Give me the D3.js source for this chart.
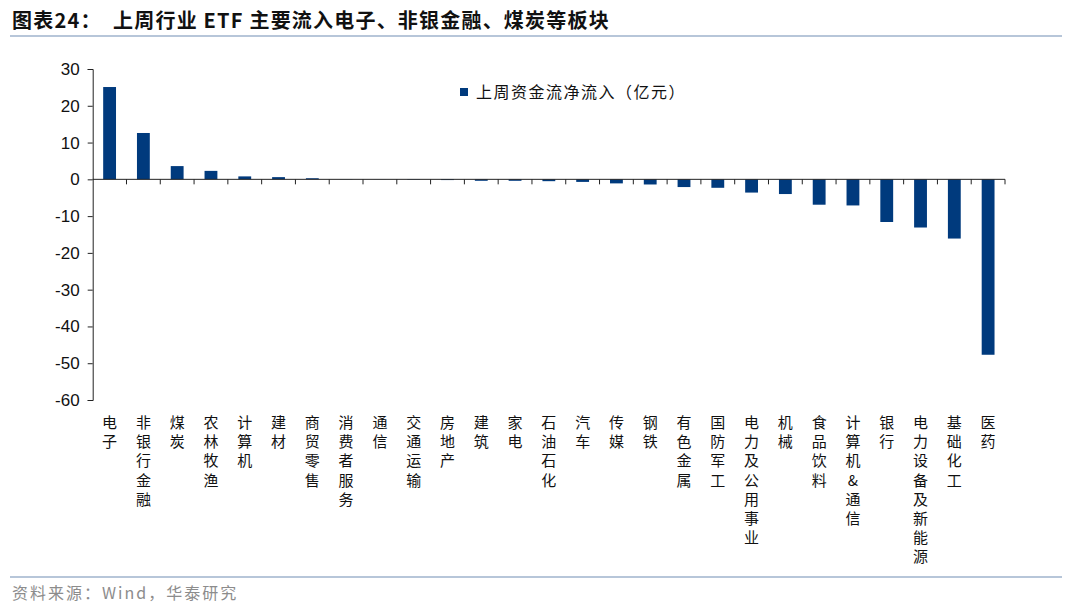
<!DOCTYPE html>
<html>
<head>
<meta charset="utf-8">
<script src="https://cdn.jsdelivr.net/npm/d3@7"></script>
<style>
  body { margin: 0; background: #fff; }
  svg { display: block; }
</style>
</head>
<body>
<div id="chart"></div>
<script>
// Sector names (x axis) and last week's net ETF inflow, in 100m yuan
const categories = ["电子", "非银行金融", "煤炭", "农林牧渔", "计算机", "建材", "商贸零售", "消费者服务",
    "通信", "交通运输", "房地产", "建筑", "家电", "石油石化", "汽车", "传媒", "钢铁", "有色金属",
    "国防军工", "电力及公用事业", "机械", "食品饮料", "计算机&通信", "银行", "电力设备及新能源", "基础化工", "医药"];
const inflows = [25.1, 12.6, 3.6, 2.3, 0.8, 0.6, 0.3, 0.05, 0.02, -0.1, -0.2, -0.4, -0.4, -0.5, -0.7,
    -1.1, -1.4, -2.1, -2.3, -3.6, -4.0, -6.9, -7.1, -11.6, -13.1, -16.1, -47.7];
const yTicks = [30, 20, 10, 0, -10, -20, -30, -40, -50, -60];
const seriesName = "上周资金流净流入（亿元）";

const width = 1080, height = 608;
const cjk = "'Noto Sans CJK SC', 'Noto Sans', sans-serif";
const barColor = "#003a7d";

const svg = d3.select("#chart").append("svg")
    .attr("width", width)
    .attr("height", height);

// Title + rule
svg.append("text")
    .attr("x", 12).attr("y", 28)
    .attr("font-family", cjk)
    .attr("font-size", 20)
    .attr("font-weight", "bold")
    .attr("letter-spacing", 1.2)
    .attr("fill", "#111")
    .attr("xml:space", "preserve")
    .text("图表24：  上周行业 ETF 主要流入电子、非银金融、煤炭等板块");
svg.append("line")
    .attr("x1", 10).attr("x2", 1062).attr("y1", 36).attr("y2", 36)
    .attr("stroke", "#9fb3cc").attr("stroke-width", 1.5);

// Footer
svg.append("line")
    .attr("x1", 10).attr("x2", 1062).attr("y1", 577).attr("y2", 577)
    .attr("stroke", "#9fb3cc").attr("stroke-width", 1.5);
svg.append("text")
    .attr("x", 12).attr("y", 599)
    .attr("font-family", cjk)
    .attr("font-size", 16)
    .attr("letter-spacing", 2)
    .attr("fill", "#8c8c8c")
    .text("资料来源：Wind，华泰研究");

// Scales
const x = d3.scaleBand()
    .domain(categories)
    .range([92.7, 1005])
    .paddingInner(0.62)
    .paddingOuter(0.31);
const y = d3.scaleLinear()
    .domain([-60, 30])
    .range([400, 69]);

// Bars
svg.append("g").selectAll("rect")
    .data(categories)
    .join("rect")
    .attr("x", d => x(d))
    .attr("width", x.bandwidth())
    .attr("y", (d, i) => y(Math.max(0, inflows[i])))
    .attr("height", (d, i) => Math.abs(y(inflows[i]) - y(0)))
    .attr("fill", barColor);

// Y axis
const yAxis = svg.append("g")
    .attr("transform", "translate(92.7,0)")
    .call(d3.axisLeft(y).tickValues(yTicks).tickSize(5).tickPadding(8).tickFormat(d => String(d)));
yAxis.select(".domain").attr("stroke", "#222");
yAxis.selectAll(".tick line").attr("stroke", "#222");
yAxis.selectAll("text")
    .attr("font-family", "Arial, 'Liberation Sans', sans-serif")
    .attr("font-size", 17)
    .attr("fill", "#111");

// X axis at zero: line with ticks between categories
const step = x.step();
const boundaries = d3.range(categories.length + 1).map(i => 92.7 + i * step);
const xAxis = svg.append("g");
xAxis.append("line")
    .attr("x1", 92.7).attr("x2", 1005)
    .attr("y1", y(0)).attr("y2", y(0))
    .attr("stroke", "#222");
xAxis.selectAll("line.tick")
    .data(boundaries.slice(1))
    .join("line")
    .attr("class", "tick")
    .attr("x1", d => d).attr("x2", d => d)
    .attr("y1", y(0)).attr("y2", y(0) + 5)
    .attr("stroke", "#222");

// Vertical category labels, one character per line
const labels = svg.append("g");
categories.forEach(c => {
    const cx = x(c) + x.bandwidth() / 2;
    const t = labels.append("text")
        .attr("text-anchor", "middle")
        .attr("font-family", cjk)
        .attr("font-size", 15)
        .attr("fill", "#111");
    Array.from(c).forEach((ch, j) => {
        t.append("tspan")
            .attr("x", cx)
            .attr("y", 428 + j * 19.2)
            .text(ch);
    });
});

// Legend
svg.append("rect")
    .attr("x", 460).attr("y", 88)
    .attr("width", 8).attr("height", 8)
    .attr("fill", barColor);
svg.append("text")
    .attr("x", 476).attr("y", 98)
    .attr("font-family", cjk)
    .attr("font-size", 16)
    .attr("letter-spacing", 1.5)
    .attr("fill", "#111")
    .text(seriesName);
</script>
</body>
</html>
